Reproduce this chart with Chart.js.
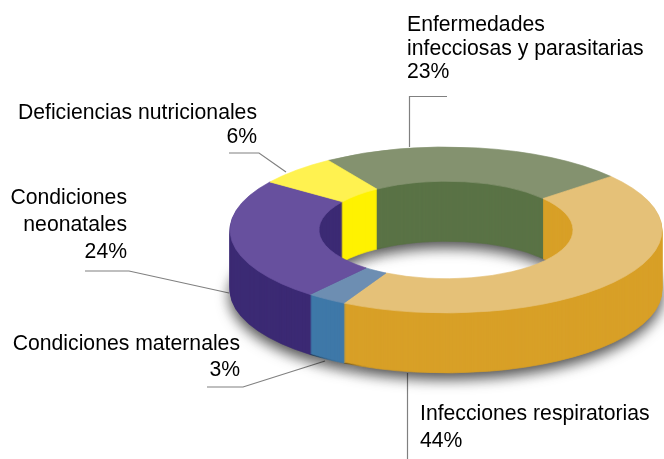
<!DOCTYPE html>
<html>
<head>
<meta charset="utf-8">
<script src="https://cdn.jsdelivr.net/npm/chart.js@4"></script>
<style>
  html, body { margin: 0; padding: 0; background: #fff; }
  canvas { display: block; }
</style>
</head>
<body>
<canvas id="donut" width="664" height="459"></canvas>
<script>
const categories = [
  'Enfermedades infecciosas y parasitarias',
  'Infecciones respiratorias',
  'Condiciones maternales',
  'Condiciones neonatales',
  'Deficiencias nutricionales'
];
const values = [23, 44, 3, 24, 6];

const topColors = ['#84926f', '#e5c178', '#6d8eb2', '#67509e', '#fff250'];
const wallColors = ['#5a7346', '#d8a027', '#3f78a8', '#3c2a74', '#fff200'];

// label text broken the way it is in the picture
const labelLines = [
  ['Enfermedades', 'infecciosas y parasitarias'],
  ['Infecciones respiratorias'],
  ['Condiciones maternales'],
  ['Condiciones', 'neonatales'],
  ['Deficiencias nutricionales']
];

// where the labels and their leader lines sit
const labelPlace = [
  { x: 407, y: 31, gap: 23.5, align: 'left', line: [[447, 96.5], [409.5, 96.5], [409.5, 147]] },
  { x: 420, y: 420, gap: 27, align: 'left', line: [[407.5, 373], [407.5, 459]] },
  { x: 240, y: 350, gap: 26, align: 'right', line: [[207, 387], [243, 387], [325, 361]] },
  { x: 127, y: 204, gap: 27, align: 'right', line: [[85, 271], [129, 271], [229, 293]] },
  { x: 257, y: 119, gap: 24, align: 'right', line: [[229, 153], [259, 153], [286, 172]] }
];

const squash = 0.384; // flattening of the circle into an ellipse
const depth = 60;     // height of the ring wall

function drawLayer(ctx, arcs, cy, dy, colors) {
  ctx.save();
  ctx.translate(0, cy + dy);
  ctx.scale(1, squash);
  ctx.translate(0, -cy);
  arcs.forEach((arc, i) => {
    const saved = arc.options;
    // thin border in the slice colour closes the seams between slices
    arc.options = Object.assign({}, saved, {
      backgroundColor: colors[i],
      borderColor: colors[i],
      borderWidth: 1
    });
    arc.draw(ctx);
    arc.options = saved;
  });
  ctx.restore();
}

const ring3d = {
  id: 'ring3d',
  beforeDatasetDraw(chart, args) {
    const ctx = chart.ctx;
    const arcs = args.meta.data;
    const cy = arcs[0].y;

    // leader lines go under the ring
    ctx.save();
    ctx.strokeStyle = '#808080';
    ctx.lineWidth = 1.2;
    labelPlace.forEach(p => {
      ctx.beginPath();
      p.line.forEach((pt, i) => i ? ctx.lineTo(pt[0], pt[1]) : ctx.moveTo(pt[0], pt[1]));
      ctx.stroke();
    });
    ctx.restore();

    // soft shadow from the lowest layer
    ctx.save();
    ctx.shadowColor = 'rgba(0,0,0,0.7)';
    ctx.shadowBlur = 14;
    ctx.shadowOffsetY = 6;
    drawLayer(ctx, arcs, cy, depth, wallColors);
    ctx.restore();

    for (let dy = depth - 1; dy > 0; dy--) {
      drawLayer(ctx, arcs, cy, dy, wallColors);
    }
    drawLayer(ctx, arcs, cy, 0, topColors);

    // texts
    ctx.save();
    ctx.fillStyle = '#000';
    ctx.font = '21.2px "Liberation Sans", Arial, sans-serif';
    ctx.textBaseline = 'alphabetic';
    labelPlace.forEach((p, i) => {
      ctx.textAlign = p.align;
      const lines = labelLines[i].concat(values[i] + '%');
      lines.forEach((t, n) => ctx.fillText(t, p.x, p.y + n * p.gap));
    });
    ctx.restore();
    return false;
  }
};

new Chart(document.getElementById('donut').getContext('2d'), {
  type: 'doughnut',
  data: {
    labels: categories,
    datasets: [{
      data: values,
      backgroundColor: topColors,
      borderWidth: 0
    }]
  },
  options: {
    responsive: false,
    animation: false,
    rotation: -33,
    cutout: '58.8%',
    layout: { padding: { left: 230, right: 2, top: 14, bottom: 13 } },
    plugins: { legend: { display: false }, tooltip: { enabled: false } },
    events: []
  },
  plugins: [ring3d]
});
</script>
</body>
</html>
